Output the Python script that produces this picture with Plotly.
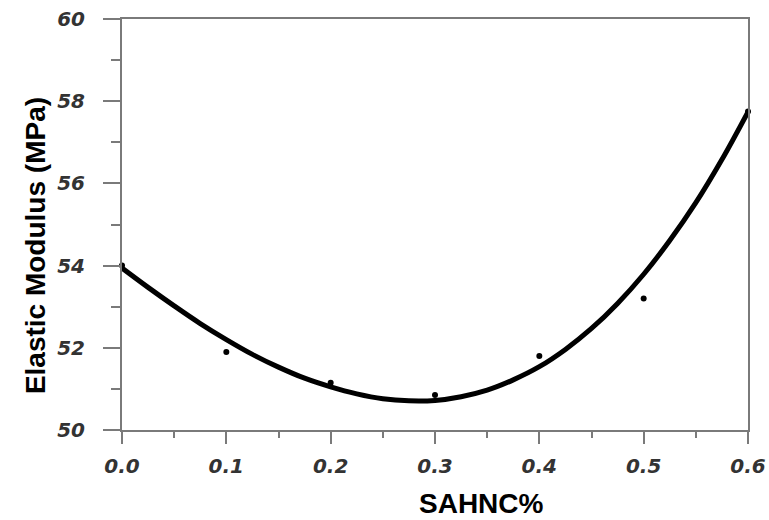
import plotly.graph_objects as go

# Measured elastic modulus at each SAHNC loading
sahnc_pct = [0.0, 0.1, 0.2, 0.3, 0.4, 0.5, 0.6]
modulus_mpa = [54.0, 51.9, 51.15, 50.85, 51.8, 53.2, 57.75]

# Fitted trend curve sampled along the SAHNC axis
fit_x = [0.0, 0.025, 0.05, 0.075, 0.1, 0.125, 0.15, 0.175, 0.2, 0.225, 0.25,
         0.275, 0.3, 0.325, 0.35, 0.375, 0.4, 0.425, 0.45, 0.475, 0.5,
         0.525, 0.55, 0.575, 0.6]
fit_y = [53.94, 53.47, 53.02, 52.59, 52.20, 51.84, 51.53, 51.26, 51.05, 50.88,
         50.76, 50.71, 50.72, 50.81, 50.97, 51.22, 51.54, 51.96, 52.47, 53.08,
         53.79, 54.61, 55.53, 56.58, 57.74]

x_ticks = [0.0, 0.1, 0.2, 0.3, 0.4, 0.5, 0.6]
x_tick_text = ["0.0", "0.1", "0.2", "0.3", "0.4", "0.5", "0.6"]
y_ticks = [50, 52, 54, 56, 58, 60]

tick_font = dict(family="DejaVu Sans", size=20, weight="bold", style="italic", color="#333333")
axis_grey = "#7a7a7a"

fig = go.Figure()
fig.add_trace(go.Scatter(
    x=fit_x, y=fit_y, mode="lines",
    line=dict(color="black", width=5, shape="spline"),
    cliponaxis=False, hoverinfo="skip", showlegend=False,
))
fig.add_trace(go.Scatter(
    x=sahnc_pct, y=modulus_mpa, mode="markers",
    marker=dict(color="black", size=6),
    cliponaxis=False, showlegend=False,
))

fig.update_xaxes(
    range=[0, 0.6], tickvals=x_ticks, ticktext=x_tick_text,
    showgrid=False, zeroline=False, automargin=False,
    showline=True, linecolor=axis_grey, linewidth=2, mirror=True,
    ticks="outside", ticklen=12, tickwidth=1.5, tickcolor=axis_grey,
    ticklabelstandoff=5, tickfont=tick_font,
    minor=dict(dtick=0.05, ticks="outside", ticklen=6, tickwidth=1.5, tickcolor=axis_grey),
)
fig.update_yaxes(
    range=[50, 60], tickvals=y_ticks,
    showgrid=False, zeroline=False, automargin=False,
    showline=True, linecolor=axis_grey, linewidth=2, mirror=True,
    ticks="outside", ticklen=17, tickwidth=1.5, tickcolor=axis_grey,
    ticklabelstandoff=14, tickfont=tick_font,
    minor=dict(dtick=1, ticks="outside", ticklen=9, tickwidth=1.5, tickcolor=axis_grey),
)

fig.add_annotation(
    text="Elastic Modulus (MPa)", textangle=-90,
    xref="paper", yref="paper", x=-0.137, y=0.448,
    xanchor="center", yanchor="middle", showarrow=False,
    font=dict(family="Liberation Sans", size=28, weight="bold", color="black"),
)
fig.add_annotation(
    text="SAHNC%",
    xref="paper", yref="paper", x=0.575, y=-0.179,
    xanchor="center", yanchor="middle", showarrow=False,
    font=dict(family="Liberation Sans", size=28, weight="bold", color="black"),
)

fig.update_layout(
    width=769, height=520,
    margin=dict(l=122, r=21, t=19, b=90),
    paper_bgcolor="white", plot_bgcolor="white",
)

fig.write_html("out.html")
